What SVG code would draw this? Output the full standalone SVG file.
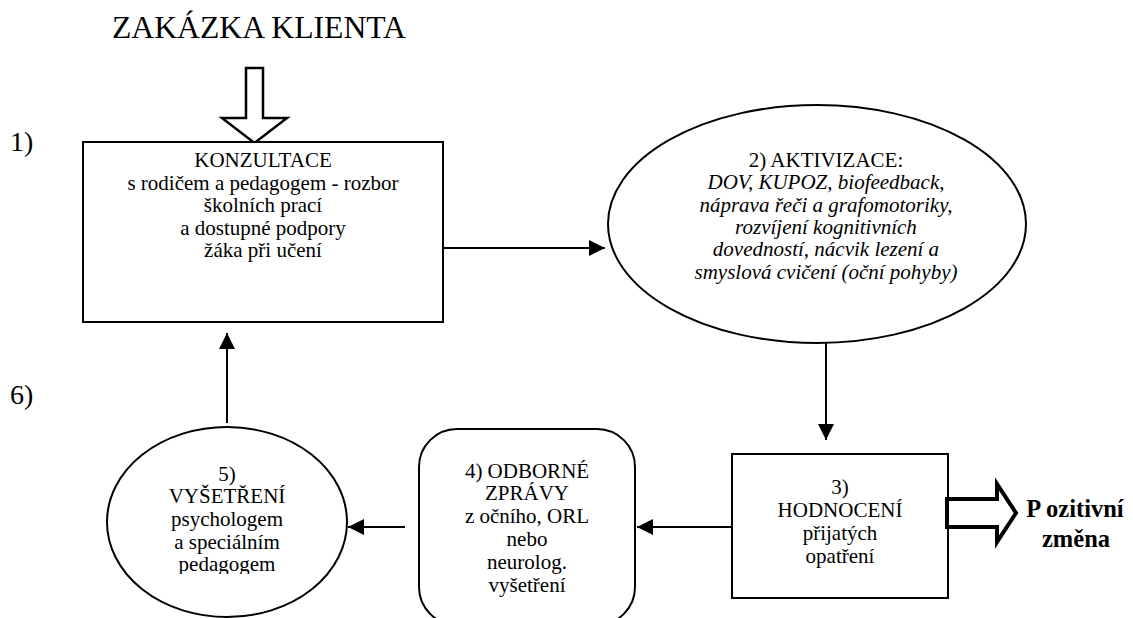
<svg xmlns="http://www.w3.org/2000/svg" width="1133" height="618" viewBox="0 0 1133 618" font-family="'Liberation Serif', 'Times New Roman', 'DejaVu Serif', serif">
<style>
text{font-family:'Liberation Serif','Times New Roman','DejaVu Serif',serif;fill:#000}
.t{font-size:21px;text-anchor:middle}
.i{font-style:italic}
.shape{fill:#fff;stroke:#000;stroke-width:2}
.conn{stroke:#000;stroke-width:2;fill:none}
.hollow{fill:#fff;stroke:#000;stroke-width:2.5;stroke-linejoin:miter}
</style>
<defs>
<marker id="ah" markerUnits="userSpaceOnUse" markerWidth="16" markerHeight="16" refX="16" refY="8" orient="auto">
<path d="M0,0 L16,8 L0,16 z" fill="#000"/>
</marker>
<clipPath id="clip5"><rect x="100" y="420" width="260" height="154"/></clipPath>
</defs>
<rect width="1133" height="618" fill="#fff"/>
<text x="259" y="38" font-size="31.7" text-anchor="middle">ZAKÁZKA KLIENTA</text>
<text x="10" y="151" font-size="28">1)</text>
<text x="10" y="404" font-size="28">6)</text>
<g id="input-arrow">
<path class="hollow" d="M246,68 L263,68 L263,118 L287,118 L254.5,143 L222,118 L246,118 z"/>
</g>
<g id="node1">
<rect class="shape" x="83" y="142" width="360" height="180"/>
<text class="t" x="263" y="167">KONZULTACE</text>
<text class="t" x="263" y="190">s rodičem a pedagogem - rozbor</text>
<text class="t" x="263" y="212">školních prací</text>
<text class="t" x="263" y="235">a dostupné podpory</text>
<text class="t" x="263" y="257">žáka při učení</text>
</g>
<g id="node2">
<ellipse class="shape" cx="817" cy="224" rx="209" ry="119"/>
<text class="t" x="826" y="167">2) AKTIVIZACE:</text>
<text class="t i" x="826" y="189">DOV, KUPOZ, biofeedback,</text>
<text class="t i" x="826" y="212">náprava řeči a grafomotoriky,</text>
<text class="t i" x="826" y="234">rozvíjení kognitivních</text>
<text class="t i" x="826" y="256">dovedností, nácvik lezení a</text>
<text class="t i" x="826" y="279">smyslová cvičení (oční pohyby)</text>
</g>
<g id="node3">
<rect class="shape" x="732" y="454" width="216" height="144"/>
<text class="t" x="840" y="494">3)</text>
<text class="t" x="840" y="517">HODNOCENÍ</text>
<text class="t" x="840" y="540">přijatých</text>
<text class="t" x="840" y="563">opatření</text>
</g>
<g id="node4">
<rect class="shape" x="419" y="429" width="216" height="196" rx="38" ry="38"/>
<text class="t" x="527" y="478">4) ODBORNÉ</text>
<text class="t" x="527" y="500">ZPRÁVY</text>
<text class="t" x="527" y="523">z očního, ORL</text>
<text class="t" x="527" y="546">nebo</text>
<text class="t" x="527" y="569">neurolog.</text>
<text class="t" x="527" y="592">vyšetření</text>
</g>
<g id="node5">
<ellipse class="shape" cx="227" cy="522" rx="120" ry="95"/>
<g clip-path="url(#clip5)">
<text class="t" x="227" y="481">5)</text>
<text class="t" x="227" y="503">VYŠETŘENÍ</text>
<text class="t" x="227" y="526">psychologem</text>
<text class="t" x="227" y="549">a speciálním</text>
<text class="t" x="227" y="571">pedagogem</text>
</g>
</g>
<g id="output-arrow">
<path d="M947,499 L997,499 L997,484 L1016,513 L997,542 L997,527 L947,527 z" fill="#fff" stroke="#000" stroke-width="4"/>
<text x="1075" y="517" font-size="24.5" font-weight="bold" text-anchor="middle">P ozitivní</text>
<text x="1076" y="547" font-size="24.5" font-weight="bold" text-anchor="middle">změna</text>
</g>
<g id="connectors">
<line class="conn" x1="443" y1="248" x2="605" y2="248" marker-end="url(#ah)"/>
<line class="conn" x1="826" y1="343" x2="826" y2="440" marker-end="url(#ah)"/>
<line class="conn" x1="731" y1="527" x2="637" y2="527" marker-end="url(#ah)"/>
<line class="conn" x1="405" y1="527" x2="348" y2="527" marker-end="url(#ah)"/>
<line class="conn" x1="227" y1="423" x2="227" y2="333" marker-end="url(#ah)"/>
</g>
</svg>
